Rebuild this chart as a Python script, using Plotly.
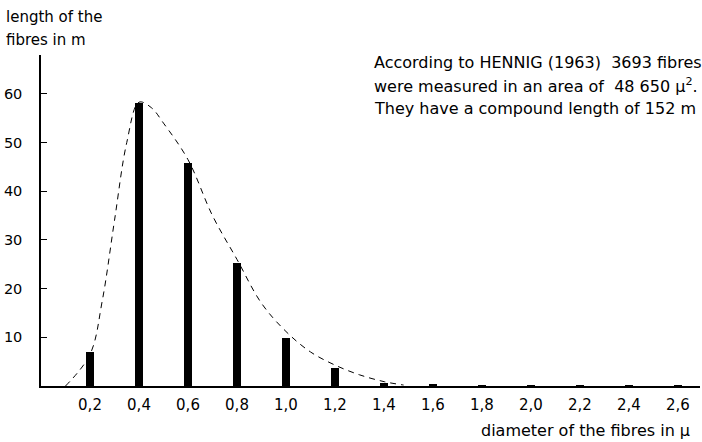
import plotly.graph_objects as go

# Data
diameters = [0.2, 0.4, 0.6, 0.8, 1.0, 1.2, 1.4, 1.6, 1.8, 2.0, 2.2, 2.4, 2.6]
lengths = [7.0, 58.2, 45.8, 25.3, 9.9, 3.6, 0.7, 0.3, 0.1, 0.15, 0.12, 0.05, 0.05]

curve_x = [0.10, 0.20, 0.25, 0.30, 0.35, 0.40, 0.45, 0.50, 0.60, 0.70, 0.80, 0.90, 1.00, 1.10, 1.20, 1.30, 1.40, 1.48]
curve_y = [0.0, 6.5, 17.5, 34.0, 50.0, 58.3, 57.2, 54.0, 46.5, 35.0, 26.0, 17.0, 11.2, 7.0, 4.3, 2.3, 0.9, 0.2]

x_ticks = [0.2, 0.4, 0.6, 0.8, 1.0, 1.2, 1.4, 1.6, 1.8, 2.0, 2.2, 2.4, 2.6]
x_ticktext = ["0,2", "0,4", "0,6", "0,8", "1,0", "1,2", "1,4", "1,6", "1,8", "2,0", "2,2", "2,4", "2,6"]
y_ticks = [10, 20, 30, 40, 50, 60]

y_title_lines = ["length of the", "fibres in m"]
note_lines = ["According to HENNIG (1963)  3693 fibres",
              "were measured in an area of  48 650 μ<sup>2</sup>.",
              "They have a compound length of 152 m"]
x_title = "diameter of the fibres in μ"

FONT = "DejaVu Sans"
L, R, T, B = 41, 2, 55, 56
W, H = 702, 442
PW, PH = W - L - R, H - T - B


def px(x):
    return (x - L) / PW


def py(y):
    return (H - B - y) / PH


fig = go.Figure()
fig.add_trace(go.Bar(x=diameters, y=lengths, width=0.033,
                     marker=dict(color="black", line=dict(width=0)), showlegend=False))
fig.add_trace(go.Scatter(x=curve_x, y=curve_y, mode="lines", line_shape="spline",
                         line=dict(color="black", width=1, dash="6px,5px"), showlegend=False))

fig.update_layout(
    width=W, height=H,
    margin=dict(l=L, r=R, t=T, b=B, autoexpand=False),
    plot_bgcolor="white", paper_bgcolor="white",
    font=dict(family=FONT, size=15, color="black"),
    xaxis=dict(range=[0, 2.69], tickvals=x_ticks, ticktext=x_ticktext, ticks="",
               showgrid=False, zeroline=False, showline=True, linecolor="black", linewidth=1.5,
               tickfont=dict(size=15), ticklabelstandoff=4, automargin=False),
    yaxis=dict(range=[0, 68], tickvals=y_ticks, ticks="inside", ticklen=6, tickcolor="black",
               showgrid=False, zeroline=False, showline=True, linecolor="black", linewidth=1.5,
               tickfont=dict(size=14.5), ticklabelstandoff=14, automargin=False),
    bargap=0,
)

for i, t in enumerate(y_title_lines):
    fig.add_annotation(x=px(4), y=py(17 + 23 * i), xref="paper", yref="paper",
                       xanchor="left", yanchor="middle", text=t, showarrow=False,
                       font=dict(size=15))
for i, t in enumerate(note_lines):
    fig.add_annotation(x=px(372), y=py(62 + 23 * i), xref="paper", yref="paper",
                       xanchor="left", yanchor="middle", text=t, showarrow=False,
                       font=dict(size=16))
fig.add_annotation(x=px(692), y=py(430), xref="paper", yref="paper",
                   xanchor="right", yanchor="middle", text=x_title, showarrow=False,
                   font=dict(size=16))

fig.write_html("out.html", config={"displayModeBar": False},
               post_script="document.body.style.margin='0';document.body.style.padding='0';")
